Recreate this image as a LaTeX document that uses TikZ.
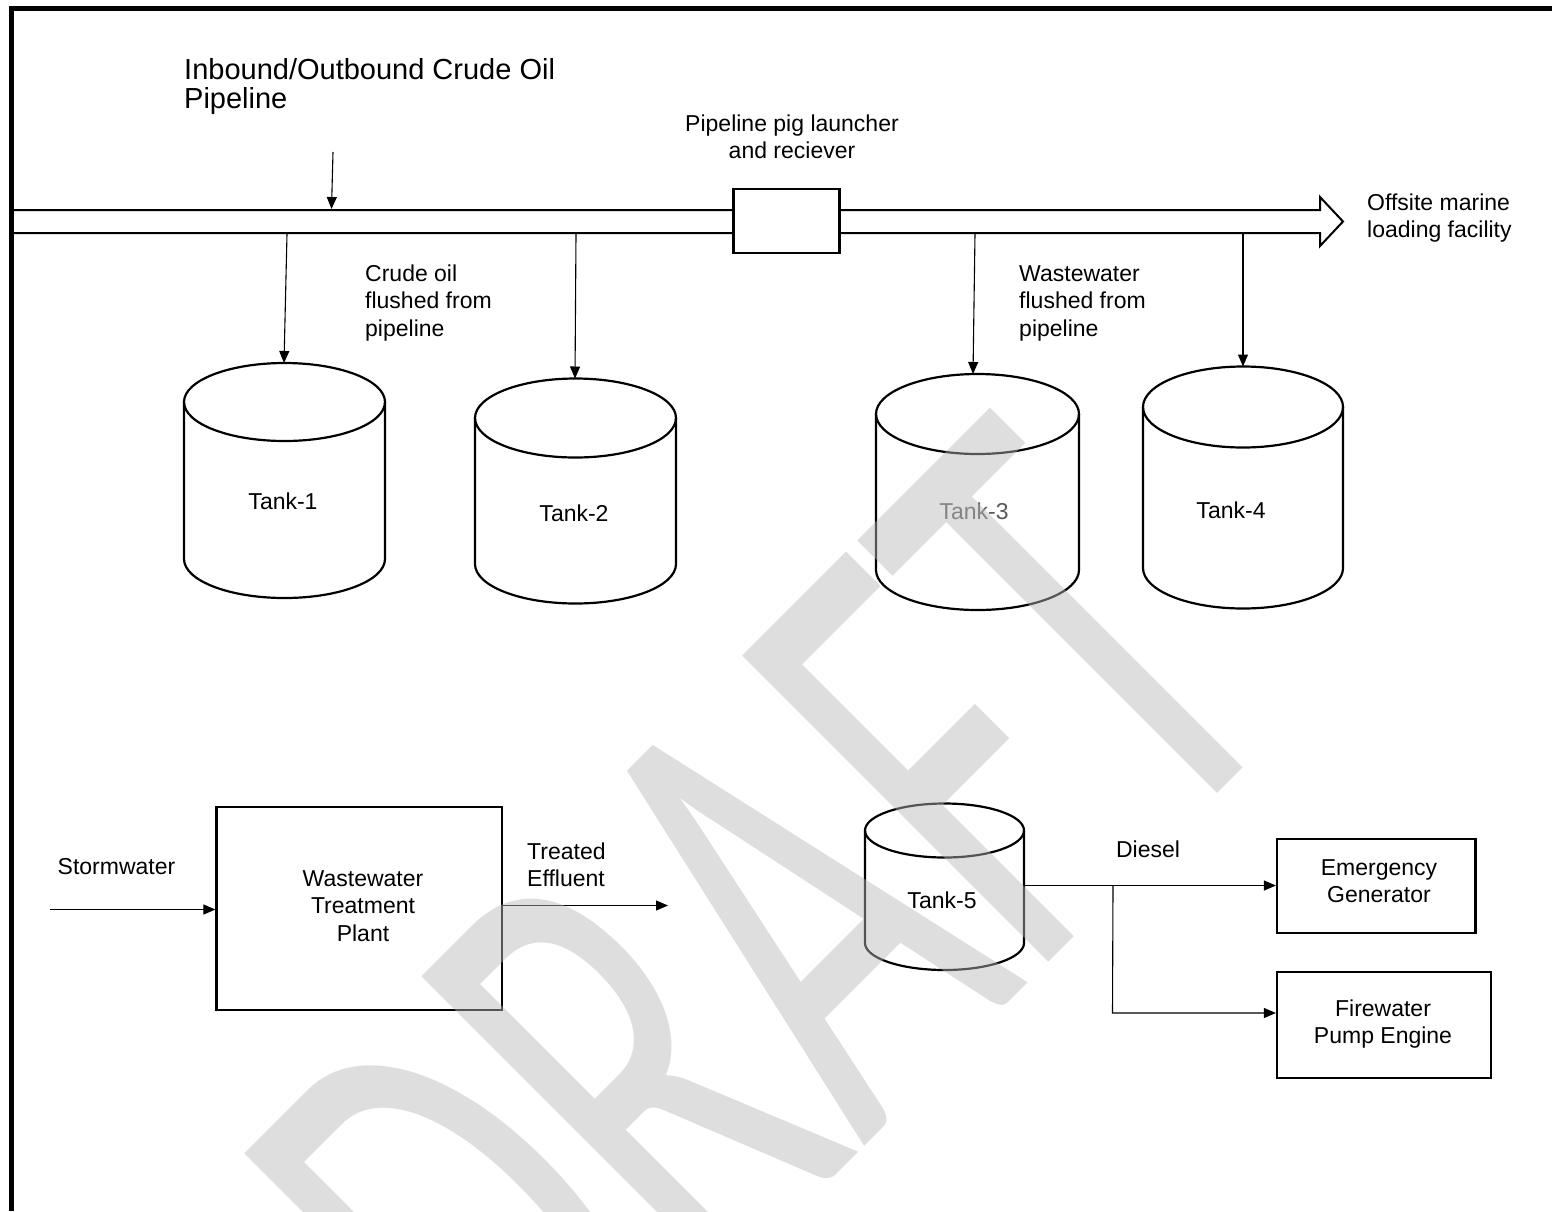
\documentclass[tikz,border=0pt]{standalone}
\usepackage{graphicx}
\usepackage{fontspec}
\setmainfont{Liberation Sans}
\newfontfamily\wmfont{Carlito}
\usetikzlibrary{arrows.meta}
\definecolor{wm}{RGB}{184,184,184}
\definecolor{tankgray}{RGB}{90,90,90}
\newcommand\mlc[1]{\vtop{\lineskiplimit=-1000pt\lineskip=0pt\halign{\hfil##\hfil\cr#1\crcr}}}
\newcommand\mll[1]{\vtop{\lineskiplimit=-1000pt\lineskip=0pt\halign{##\hfil\cr#1\crcr}}}
\newcommand\tankdraw[5]{%
  \draw[tankline] (#1-#4,-#2) -- (#1-#4,-#3)
    arc[start angle=180,end angle=360,x radius=#4,y radius=#5] -- (#1+#4,-#2);
  \draw[tankline] (#1,-#2) ellipse[x radius=#4,y radius=#5];}
\begin{document}
\begin{tikzpicture}[x=1pt,y=1pt,
  lbl/.style={font=\fontsize{23}{27.5}\selectfont, inner sep=0pt},
  boxst/.style={draw, line width=2.2pt, fill=white, inner sep=0pt},
  arr/.style={-{Triangle[length=12pt,width=10pt]}, line width=1.1pt},
  tankline/.style={line width=2.2pt},
  pipe/.style={line width=2pt, line join=miter}
]
\useasboundingbox (0,0) rectangle (1552,-1211);
\fill[white] (0,0) rectangle (1552,-1211);
% frame
\draw[line width=5pt] (11,-1211) -- (11,-8) -- (1552,-8);

% title and inbound arrow
\node[lbl, anchor=base west, font=\fontsize{29}{29}\selectfont] (title) at (184,-79)
  {\mll{Inbound/Outbound Crude Oil\cr Pipeline}};
\coordinate (ta) at (333,-152);
\coordinate (tb) at (331.5,-209);
\draw[arr] (ta) -- (tb);

% pipeline block arrow
\draw[pipe] (13,-210) -- (1320,-210) -- (1320,-197) -- (1343,-221.5) -- (1320,-246)
  -- (1320,-233) -- (13,-233);
\node[boxst, minimum width=106pt, minimum height=64pt] (pig) at (786.5,-221) {};
\node[lbl, anchor=base] (piglbl) at (792,-131)
  {\mlc{Pipeline pig launcher\cr and reciever}};
\node[lbl, anchor=base west] (offsite) at (1367,-210)
  {\mll{Offsite marine\cr loading facility}};

% flush labels
\node[lbl, anchor=base west] (crude) at (365,-281)
  {\mll{Crude oil\cr flushed from\cr pipeline}};
\node[lbl, anchor=base west] (wwflush) at (1019,-281)
  {\mll{Wastewater\cr flushed from\cr pipeline}};

% tanks
\tankdraw{284.5}{402}{559}{100.5}{39}
\tankdraw{575.5}{418}{564}{100.5}{39.5}
\tankdraw{977.5}{414}{570}{101.5}{40}
\tankdraw{1243}{407}{568}{100}{40.5}
\tankdraw{944.5}{830.5}{943}{79.5}{27}
\node[lbl, anchor=base] (tank1) at (283,-509) {Tank-1};
\node[lbl, anchor=base] (tank2) at (574,-521) {Tank-2};
\node[lbl, anchor=base, text=tankgray] (tank3) at (974,-519) {Tank-3};
\node[lbl, anchor=base] (tank4) at (1231,-518) {Tank-4};
\node[lbl, anchor=base] (tank5) at (942,-908) {Tank-5};
\coordinate (t1top) at (284,-363);
\coordinate (t2top) at (575,-378.5);
\coordinate (t3top) at (973,-374);
\coordinate (t4top) at (1243,-366.5);
\coordinate (p1) at (287,-234);
\coordinate (p2) at (576,-234);
\coordinate (p3) at (975,-234);
\coordinate (p4) at (1243,-234);
\draw[arr] (p1) -- (t1top);
\draw[arr] (p2) -- (t2top);
\draw[arr] (p3) -- (t3top);
\draw[arr] (p4) -- (t4top);

% wastewater treatment
\node[boxst, minimum width=285.5pt, minimum height=203pt] (wwtp) at (359.25,-908.5) {};
\node[lbl, anchor=base] (wwtplbl) at (363,-886)
  {\mlc{Wastewater\cr Treatment\cr Plant}};
\node[lbl, anchor=base] (storm) at (116.5,-874) {Stormwater};
\coordinate (sw) at (50,-909.5);
\draw[arr] (sw) -- (sw -| wwtp.west);
\node[lbl, anchor=base west] (treated) at (527,-859)
  {\mll{Treated\cr Effluent}};
\coordinate (te) at (668,-905.5);
\draw[arr] (wwtp.east |- te) -- (te);

% diesel
\node[boxst, minimum width=198.5pt, minimum height=94pt] (eg) at (1376.25,-886) {};
\node[lbl, anchor=base] (eglbl) at (1379,-875) {\mlc{Emergency\cr Generator}};
\node[boxst, minimum width=214pt, minimum height=106pt] (fp) at (1384,-1025) {};
\node[lbl, anchor=base] (fplbl) at (1383,-1016) {\mlc{Firewater\cr Pump Engine}};
\node[lbl, anchor=base] (diesel) at (1148,-857) {Diesel};
\coordinate (t5r) at (1024,-885.5);
\draw[arr] (t5r) -- (eg.west |- t5r);
\coordinate (br) at (1113,-886);
\coordinate (brc) at (1112.5,-1013);
\draw[arr] (br) -- (brc) -- (fp.west |- brc);

% watermark
\node[rotate=45, inner sep=0pt, opacity=0.46, text=wm] (draft) at (763,-942)
  {\scalebox{4.05}[6.75]{\wmfont\fontsize{100}{100}\selectfont DRAFT}};
\end{tikzpicture}
\end{document}
